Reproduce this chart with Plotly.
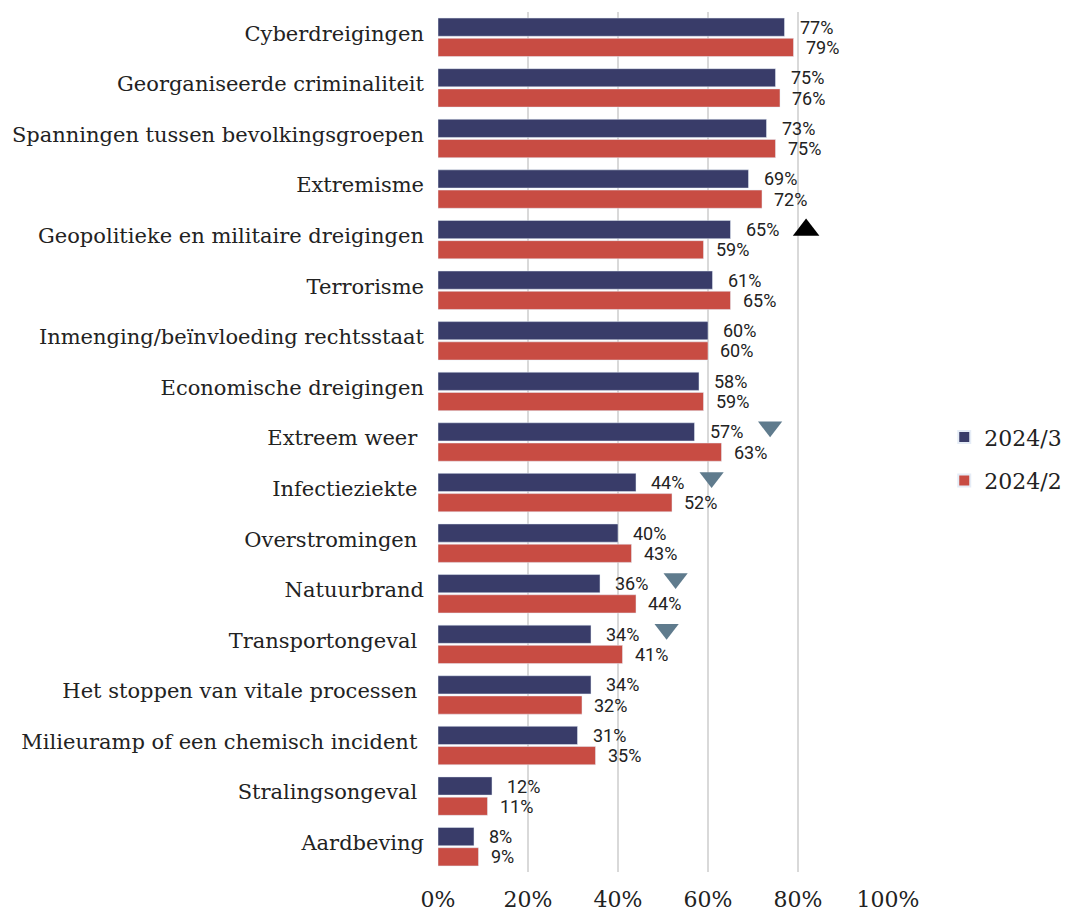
import plotly.graph_objects as go

categories = [
    "Cyberdreigingen",
    "Georganiseerde criminaliteit",
    "Spanningen tussen bevolkingsgroepen",
    "Extremisme",
    "Geopolitieke en militaire dreigingen",
    "Terrorisme",
    "Inmenging/beïnvloeding rechtsstaat",
    "Economische dreigingen",
    "Extreem weer ",
    "Infectieziekte ",
    "Overstromingen ",
    "Natuurbrand",
    "Transportongeval ",
    "Het stoppen van vitale processen ",
    "Milieuramp of een chemisch incident ",
    "Stralingsongeval ",
    "Aardbeving",
]
s2024_3 = [77, 75, 73, 69, 65, 61, 60, 58, 57, 44, 40, 36, 34, 34, 31, 12, 8]
s2024_2 = [79, 76, 75, 72, 59, 65, 60, 59, 63, 52, 43, 44, 41, 32, 35, 11, 9]
# significant change markers: category index -> direction
changes = {4: "up", 8: "down", 9: "down", 11: "down", 12: "down"}
tick_vals = [0, 20, 40, 60, 80, 100]
tick_text = ["0%", "20%", "40%", "60%", "80%", "100%"]

NAVY = "#393c69"
RED = "#c84c43"
SLATE = "#5f7b8d"
BAR_W = 0.36
OFF = 0.2
MARK_DX = 16.8
LABEL_FONT = dict(family="Roboto", size=18, color="#222")

pos = list(range(len(categories)))

fig = go.Figure()
fig.add_trace(go.Bar(
    y=[p - OFF for p in pos], x=s2024_3, orientation="h", width=BAR_W,
    marker=dict(color=NAVY), name="2024/3", legendgroup="a",
    hoverinfo="x",
))
fig.add_trace(go.Bar(
    y=[p + OFF for p in pos], x=s2024_2, orientation="h", width=BAR_W,
    marker=dict(color=RED), name="2024/2", legendgroup="b",
    hoverinfo="x",
))

annos = []
for p, v in zip(pos, s2024_3):
    annos.append(dict(x=v, y=p - OFF, xref="x", yref="y", text=f"{v}%",
                      showarrow=False, xanchor="left", xshift=13,
                      font=LABEL_FONT))
for p, v in zip(pos, s2024_2):
    annos.append(dict(x=v, y=p + OFF, xref="x", yref="y", text=f"{v}%",
                      showarrow=False, xanchor="left", xshift=10,
                      font=LABEL_FONT))

up_idx = [i for i, d in changes.items() if d == "up"]
dn_idx = [i for i, d in changes.items() if d == "down"]
fig.add_trace(go.Scatter(
    x=[s2024_3[i] + MARK_DX for i in up_idx], y=[i - 0.19 for i in up_idx],
    mode="markers", marker=dict(symbol="triangle-up", size=23, color="black"),
    showlegend=False, hoverinfo="skip",
))
fig.add_trace(go.Scatter(
    x=[s2024_3[i] + MARK_DX for i in dn_idx], y=[i - 0.3 for i in dn_idx],
    mode="markers", marker=dict(symbol="triangle-down", size=21, color=SLATE),
    showlegend=False, hoverinfo="skip",
))

fig.update_layout(
    width=1069, height=913,
    margin=dict(l=438, r=181, t=12, b=41, autoexpand=False),
    paper_bgcolor="white", plot_bgcolor="white",
    barmode="overlay",
    annotations=annos,
    showlegend=True,
    legend=dict(x=1.125, y=0.48, xanchor="left", yanchor="middle",
                font=dict(family="DejaVu Serif", size=22, color="#222"),
                tracegroupgap=12, itemsizing="constant", bgcolor="rgba(0,0,0,0)"),
    xaxis=dict(range=[0, 100], tickvals=tick_vals, ticktext=tick_text,
               showgrid=True, gridcolor="#d9d9d9", gridwidth=2,
               zeroline=False, showline=False, automargin=False,
               ticklabelstandoff=12,
               tickfont=dict(family="DejaVu Serif", size=22, color="#222")),
    yaxis=dict(range=[16.5, -0.5], tickvals=pos, ticktext=categories,
               showgrid=False, zeroline=False, showline=False,
               automargin=False, ticklabelstandoff=13, ticklabelshift=4,
               tickfont=dict(family="DejaVu Serif", size=21, color="#222")),
)

fig.write_html("out.html", config={"displayModeBar": False},
               post_script="document.body.style.margin='0';")
